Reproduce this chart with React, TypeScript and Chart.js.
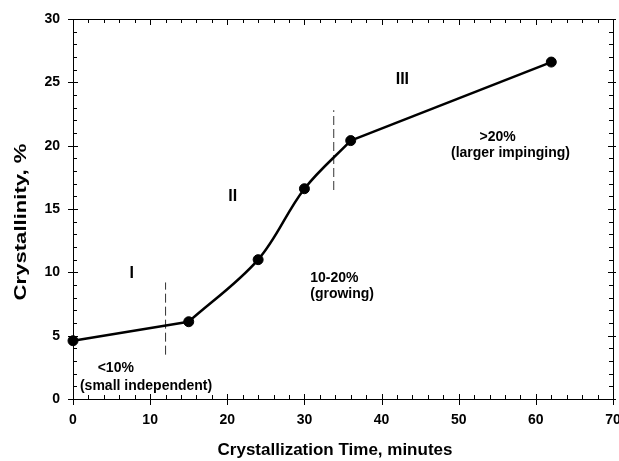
import React, { useEffect, useRef } from "react";
import { Chart, registerables } from "chart.js";

Chart.register(...registerables);

const timeMinutes = [0, 15, 24, 30, 36, 62];
const crystallinity = [4.6, 6.1, 11.0, 16.6, 20.4, 26.6];

const boundary1X = [12, 12];
const boundary1Y = [3.5, 9.2];
const boundary2X = [33.8, 33.8];
const boundary2Y = [16.5, 22.8];

const xTickValues = [0, 10, 20, 30, 40, 50, 60, 70];
const yTickValues = [0, 5, 10, 15, 20, 25, 30];

const regionLabels = ["I", "II", "III"];
const regionX = [7.6, 20.7, 42.7];
const regionY = [9.9, 16.0, 25.2];

const noteTexts = ["<10%", "(small independent)", "10-20%", "(growing)", ">20%", "(larger impinging)"];
const noteX = [3.2, 0.9, 30.75, 30.75, 52.7, 49.0];
const noteY = [2.45, 1.03, 9.58, 8.31, 20.66, 19.4];

const xTitle = "Crystallization Time, minutes";
const yTitle = "Crystallinity, %";

const FONT = '"Liberation Sans", Arial, sans-serif';

const framePlugin = {
  id: "framePlugin",
  afterDraw(chart: any) {
    const ctx = chart.ctx;
    const { left, right, top, bottom } = chart.chartArea;
    const xs = chart.scales.x;
    const ys = chart.scales.y;
    ctx.save();
    ctx.strokeStyle = "#000";
    ctx.fillStyle = "#000";
    ctx.lineWidth = 1;
    ctx.strokeRect(left + 0.5, top + 0.5, right - left, bottom - top);

    for (let v = 0; v <= 70; v += 2) {
      const px = Math.round(xs.getPixelForValue(v)) + 0.5;
      const major = v % 10 === 0;
      ctx.beginPath();
      if (major) {
        ctx.moveTo(px, bottom - 5);
        ctx.lineTo(px, bottom + 6);
        ctx.moveTo(px, top);
        ctx.lineTo(px, top + 6);
      } else {
        ctx.moveTo(px, bottom - 4);
        ctx.lineTo(px, bottom);
        ctx.moveTo(px, top);
        ctx.lineTo(px, top + 4);
      }
      ctx.stroke();
    }
    for (let v = 0; v <= 30; v += 1) {
      const py = Math.round(ys.getPixelForValue(v)) + 0.5;
      const major = v % 5 === 0;
      ctx.beginPath();
      if (major) {
        ctx.moveTo(left - 5, py);
        ctx.lineTo(left + 5, py);
        ctx.moveTo(right - 5, py);
        ctx.lineTo(right + 3, py);
      } else {
        ctx.moveTo(left, py);
        ctx.lineTo(left + 4, py);
        ctx.moveTo(right - 4, py);
        ctx.lineTo(right, py);
      }
      ctx.stroke();
    }

    ctx.font = `bold 14px ${FONT}`;
    ctx.textAlign = "center";
    ctx.textBaseline = "top";
    xTickValues.forEach((v) => {
      ctx.fillText(String(v), xs.getPixelForValue(v), bottom + 14);
    });
    ctx.textAlign = "right";
    ctx.textBaseline = "middle";
    yTickValues.forEach((v) => {
      ctx.fillText(String(v), left - 13, ys.getPixelForValue(v));
    });

    ctx.font = `bold 17px ${FONT}`;
    ctx.textAlign = "center";
    ctx.textBaseline = "middle";
    ctx.fillText(xTitle, (left + right) / 2 - 8, 450);
    ctx.save();
    ctx.translate(21, 222);
    ctx.rotate(-Math.PI / 2);
    ctx.scale(1.3, 1);
    ctx.fillText(yTitle, 0, 0);
    ctx.restore();

    ctx.font = `bold 16px ${FONT}`;
    regionLabels.forEach((t, i) => {
      ctx.fillText(t, xs.getPixelForValue(regionX[i]), ys.getPixelForValue(regionY[i]));
    });

    ctx.font = `bold 14px ${FONT}`;
    ctx.textAlign = "left";
    noteTexts.forEach((t, i) => {
      ctx.fillText(t, xs.getPixelForValue(noteX[i]), ys.getPixelForValue(noteY[i]));
    });
    ctx.restore();
  },
};

function pts(xs: number[], ys: number[]) {
  return xs.map((x, i) => ({ x, y: ys[i] }));
}

export default function App() {
  const canvasRef = useRef<HTMLCanvasElement | null>(null);
  useEffect(() => {
    if (!canvasRef.current) return;
    const curve = (from: number, to: number, tension: number) => ({
      data: pts(timeMinutes.slice(from, to), crystallinity.slice(from, to)),
      showLine: true,
      borderColor: "#000",
      borderWidth: 2.5,
      pointRadius: 0,
      tension,
      clip: false,
    });
    const chart = new Chart(canvasRef.current, {
      type: "scatter",
      data: {
        datasets: [
          curve(0, 2, 0),
          curve(1, 5, 0.35),
          curve(4, 6, 0),
          {
            data: pts(timeMinutes, crystallinity),
            showLine: false,
            borderColor: "#000",
            backgroundColor: "#000",
            pointRadius: 5,
            clip: false,
          },
          {
            data: pts(boundary1X, boundary1Y),
            showLine: true,
            borderColor: "#333",
            borderWidth: 1,
            borderDash: [9, 4],
            pointRadius: 0,
          },
          {
            data: pts(boundary2X, boundary2Y),
            showLine: true,
            borderColor: "#333",
            borderWidth: 1,
            borderDash: [9, 4],
            pointRadius: 0,
          },
        ],
      },
      options: {
        animation: false,
        responsive: false,
        layout: { padding: { left: 73, top: 19, right: 4, bottom: 62 } },
        plugins: { legend: { display: false }, tooltip: { enabled: false } },
        scales: {
          x: { type: "linear", min: 0, max: 70, display: false },
          y: { type: "linear", min: 0, max: 30, display: false },
        },
      },
      plugins: [framePlugin],
    });
    return () => chart.destroy();
  }, []);
  return (
    <div style={{ position: "fixed", left: 0, top: 0, width: 619, height: 461, background: "#fff" }}>
      <canvas ref={canvasRef} width={619} height={461} />
    </div>
  );
}
